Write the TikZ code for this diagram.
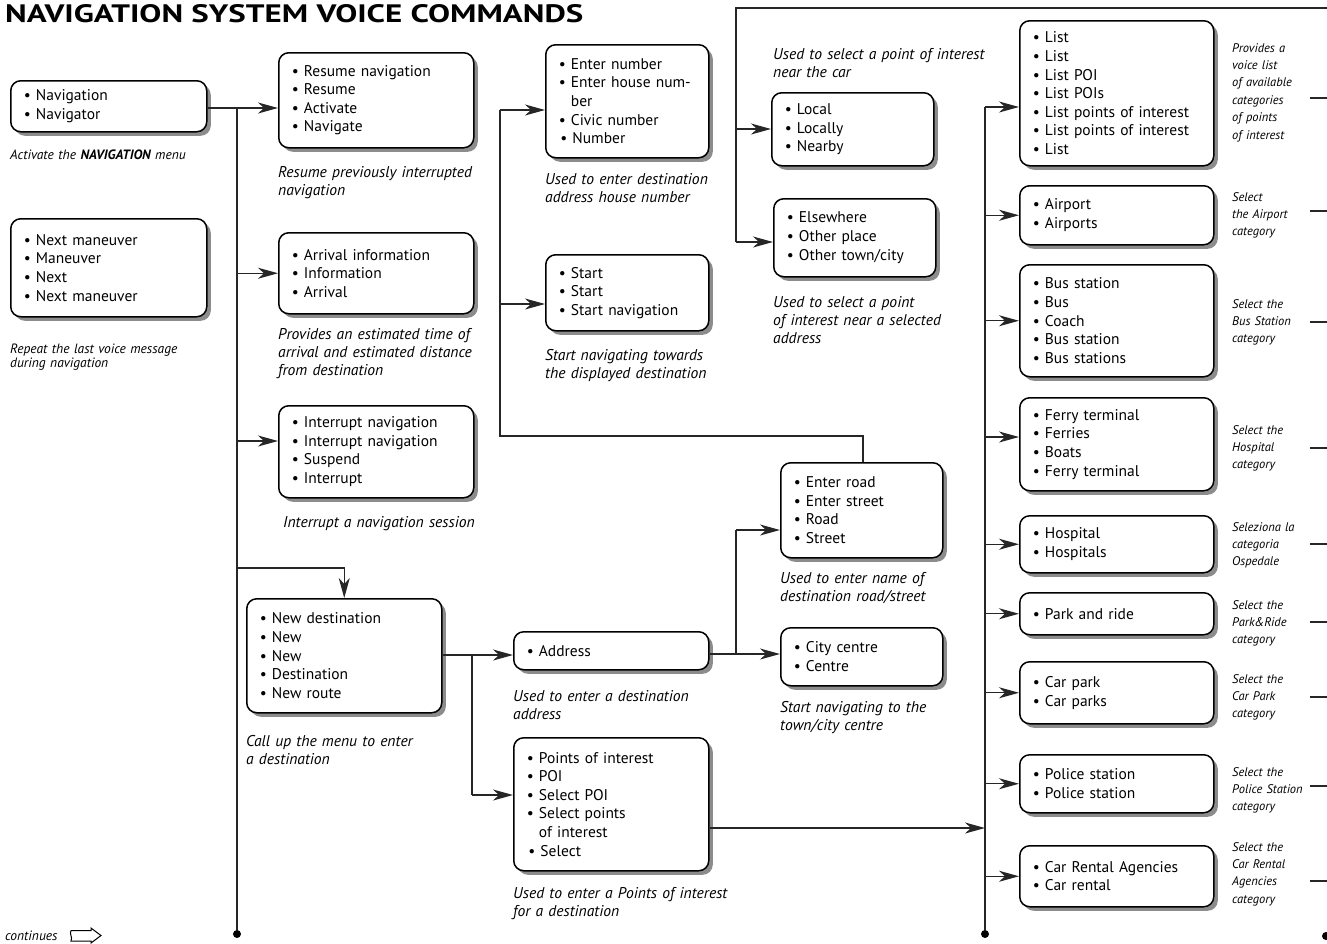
\documentclass[tikz,border=0pt]{standalone}
\usepackage{fontspec}
\setmainfont{PT Sans}
\usetikzlibrary{shadows,arrows.meta,calc}
\newcommand\itm{\textbullet\ }
\newcommand\ind{\hphantom{\textbullet\ }}
\newcommand\bx[6]{%
  \pgfmathsetmacro\bxw{#4-#2}\pgfmathsetmacro\bxh{#5-#3}\pgfmathsetmacro\bxt{#4-#2-26}%
  \node[box, minimum width=\bxw pt, minimum height=\bxh pt, text width=\bxt pt, anchor=north west] (#1) at (#2,#3) {#6};}
\begin{document}
\begin{tikzpicture}[x=1pt,y=-1pt,
  box/.style={draw=black, line width=1.5pt, rounded corners=10pt, fill=white,
    drop shadow={shadow xshift=4pt,shadow yshift=-4pt,fill=black!45,opacity=1},
    font=\fontsize{15.5}{18.6}\selectfont, align=left, inner xsep=13pt, inner ysep=0pt},
  mcap/.style={font=\fontsize{15.6}{18.3}\selectfont\itshape, align=left, inner sep=0pt, anchor=base west, text width=260pt},
  scap/.style={font=\fontsize{13.5}{14.5}\selectfont\itshape, align=left, inner sep=0pt, anchor=base west, text width=220pt},
  rcap/.style={font=\fontsize{12.5}{17.4}\selectfont\itshape, align=left, inner sep=0pt, anchor=base west, text width=90pt},
  conn/.style={line width=1.3pt, draw=black!85},
  arr/.style={conn, -{Stealth[length=20pt,width=11pt,inset=6pt]}},
  dot/.style={circle, fill=black, inner sep=0pt, minimum size=8pt}
]
\useasboundingbox (0,0) rectangle (1327,943);

\node[anchor=base west, inner sep=0pt] (title) at (5,22) {\resizebox{578pt}{18pt}{\bfseries NAVIGATION SYSTEM VOICE COMMANDS}};

% ---- boxes
\bx{nav}{10}{80}{206}{131}{\itm Navigation\\ \itm Navigator}
\bx{next}{10}{218}{206}{316}{\itm Next maneuver\\ \itm Maneuver\\ \itm Next\\ \itm Next maneuver}
\bx{resume}{278}{52}{473}{147}{\itm Resume navigation\\ \itm Resume\\ \itm Activate\\ \itm Navigate}
\bx{arrival}{278}{232}{473}{313}{\itm Arrival information\\ \itm Information\\ \itm Arrival}
\bx{interrupt}{278}{405}{473}{497}{\itm Interrupt navigation\\ \itm Interrupt navigation\\ \itm Suspend\\ \itm Interrupt}
\bx{newdest}{246}{598}{441}{712}{\itm New destination\\ \itm New\\ \itm New\\ \itm Destination\\ \itm New route}
\bx{enternum}{545}{44}{708}{157}{\itm Enter number\\ \itm Enter house num-\\ \ind ber\\ \itm Civic number\\ \hspace*{1.5pt}\itm Number}
\bx{start}{545}{254}{708}{330}{\itm Start\\ \itm Start\\ \itm Start navigation}
\bx{local}{771}{92}{933}{165}{\itm Local\\ \itm Locally\\ \itm Nearby}
\bx{elsewhere}{773}{198}{935}{276}{\itm Elsewhere\\ \itm Other place\\ \itm Other town/city}
\bx{enterroad}{780}{462}{942}{557}{\itm Enter road\\ \itm Enter street\\ \itm Road\\ \itm Street}
\bx{address}{513}{631}{708}{669}{\itm Address}
\bx{city}{780}{627}{942}{685}{\itm City centre\\ \itm Centre}
\bx{poi}{513}{737}{708}{870}{\itm Points of interest\\ \itm POI\\ \itm Select POI\\ \itm Select points\\ \ind of interest\\ \hspace*{1.5pt}\itm Select}
\bx{list}{1019}{20}{1213}{165}{\itm List\\ \itm List\\ \itm List POI\\ \itm List POIs\\ \itm List points of interest\\ \itm List points of interest\\ \itm List}
\bx{airport}{1019}{185}{1213}{244}{\itm Airport\\ \itm Airports}
\bx{bus}{1019}{264}{1213}{376}{\itm Bus station\\ \itm Bus\\ \itm Coach\\ \itm Bus station\\ \itm Bus stations}
\bx{ferry}{1019}{397}{1213}{490}{\itm Ferry terminal\\ \itm Ferries\\ \itm Boats\\ \itm Ferry terminal}
\bx{hospital}{1019}{515}{1213}{572}{\itm Hospital\\ \itm Hospitals}
\bx{park}{1019}{592}{1213}{634}{\itm Park and ride}
\bx{carpark}{1019}{661}{1213}{723}{\itm Car park\\ \itm Car parks}
\bx{police}{1019}{754}{1213}{812}{\itm Police station\\ \itm Police station}
\bx{rental}{1019}{845}{1213}{906}{\itm Car Rental Agencies\\ \itm Car rental}

% ---- captions
\node[scap] (c-nav) at (10,159) {Activate the \textbf{\textit{NAVIGATION}} menu};
\node[scap] (c-next) at (10,353) {Repeat the last voice message\\during navigation};
\node[mcap] (c-resume) at (278,177) {Resume previously interrupted\\navigation};
\node[mcap] (c-arrival) at (278,339) {Provides an estimated time of\\arrival and estimated distance\\from destination};
\node[mcap] (c-interrupt) at (283,527) {Interrupt a navigation session};
\node[mcap] (c-newdest) at (246,746) {Call up the menu to enter\\a destination};
\node[mcap] (c-enternum) at (545,184) {Used to enter destination\\address house number};
\node[mcap] (c-start) at (545,360) {Start navigating towards\\the displayed destination};
\node[mcap] (c-local) at (773,59) {Used to select a point of interest\\near the car};
\node[mcap] (c-elsewhere) at (773,307) {Used to select a point\\of interest near a selected\\address};
\node[mcap] (c-enterroad) at (780,583) {Used to enter name of\\destination road/street};
\node[mcap] (c-address) at (513,701) {Used to enter a destination\\address};
\node[mcap] (c-city) at (780,712) {Start navigating to the\\town/city centre};
\node[mcap] (c-poi) at (513,898) {Used to enter a Points of interest\\for a destination};
\node[rcap] (c-list) at (1232,52) {Provides a\\voice list\\of available\\categories\\of points\\of interest};
\node[rcap] (c-airport) at (1232,201) {Select\\the Airport\\category};
\node[rcap] (c-bus) at (1232,308) {Select the\\Bus Station\\category};
\node[rcap] (c-ferry) at (1232,434) {Select the\\Hospital\\category};
\node[rcap] (c-hospital) at (1232,531) {Seleziona la\\categoria\\Ospedale};
\node[rcap] (c-park) at (1232,609) {Select the\\Park\&Ride\\category};
\node[rcap] (c-carpark) at (1232,683) {Select the\\Car Park\\category};
\node[rcap] (c-police) at (1232,776) {Select the\\Police Station\\category};
\node[rcap] (c-rental) at (1232,851) {Select the\\Car Rental\\Agencies\\category};

% continues
\node[scap] (cont) at (5,940) {continues};
\draw[line width=1pt] (71,930.5) -- (91,930.5) -- (91,928) -- (101,935.5) -- (91,943) -- (91,941) -- (71,941) .. controls (73,937) and (69,934) .. (71,930.5);

% ---- left trunk
\coordinate (j1) at (237,108);
\node[dot] (d1) at (237,934) {};
\draw[conn] (j1) -- (d1);
\draw[arr] (nav.east |- j1) -- (j1 -| resume.west);
\draw[arr] (j1 |- arrival.west) -- (arrival.west);
\coordinate (j2) at (237,441);
\draw[arr] (j2) -- (j2 -| interrupt.west);
\coordinate (j3) at (237,568);
\draw[arr] (j3) -| (newdest.north);

% ---- new destination branch
\coordinate (j4) at (472,655);
\draw[arr] (newdest.east |- j4) -- (j4 -| address.west);
\coordinate (j5) at (472,795);
\draw[conn] (j4) -- (j5);
\draw[arr] (j5) -- (j5 -| poi.west);

% ---- address branch
\coordinate (j6) at (736,654);
\draw[arr] (address.east |- j6) -- (j6 -| city.west);
\coordinate (j7) at (736,530);
\draw[conn] (j6) -- (j7);
\draw[arr] (j7) -- (j7 -| enterroad.west);

% ---- road -> number / start
\coordinate (j8) at (863,436);
\coordinate (j9) at (500,436);
\coordinate (j10) at (500,110);
\coordinate (j11) at (500,304);
\draw[conn] (enterroad.north -| j8) -- (j8) -- (j9) -- (j10);
\draw[arr] (j10) -- (j10 -| enternum.west);
\draw[arr] (j11) -- (j11 -| start.west);

% ---- top line to local / elsewhere
\coordinate (t0) at (1327,8);
\coordinate (t1) at (736,8);
\coordinate (t2) at (736,242);
\coordinate (t3) at (736,129);
\draw[conn] (t0) -- (t1) -- (t2);
\draw[arr] (t2) -- (t2 -| elsewhere.west);
\draw[arr] (t3) -- (t3 -| local.west);

% ---- right trunk
\coordinate (r0) at (985,107);
\node[dot] (d2) at (985,934) {};
\draw[conn] (r0) -- (d2);
\coordinate (p1) at (985,828);
\draw[arr] (poi.east |- p1) -- (p1);
\draw[arr] (r0) -- (r0 -| list.west);
\draw[arr] (r0 |- airport.west) -- (airport.west);
\draw[arr] (r0 |- bus.west) -- (bus.west);
\coordinate (r4) at (985,437);
\draw[arr] (r4) -- (r4 -| ferry.west);
\draw[arr] (r0 |- hospital.west) -- (hospital.west);
\draw[arr] (r0 |- park.west) -- (park.west);
\draw[arr] (r0 |- carpark.west) -- (carpark.west);
\draw[arr] (r0 |- police.west) -- (police.west);
\draw[arr] (r0 |- rental.west) -- (rental.west);

% ---- far right stubs
\foreach \yy [count=\k] in {98,211,322,448,544,622,697,786,881}{
  \coordinate (s\k) at (1310,\yy);
  \draw[conn] (s\k) -- ++(17,0);
}
\node[dot] (d3) at (1326,936) {};
\end{tikzpicture}
\end{document}
